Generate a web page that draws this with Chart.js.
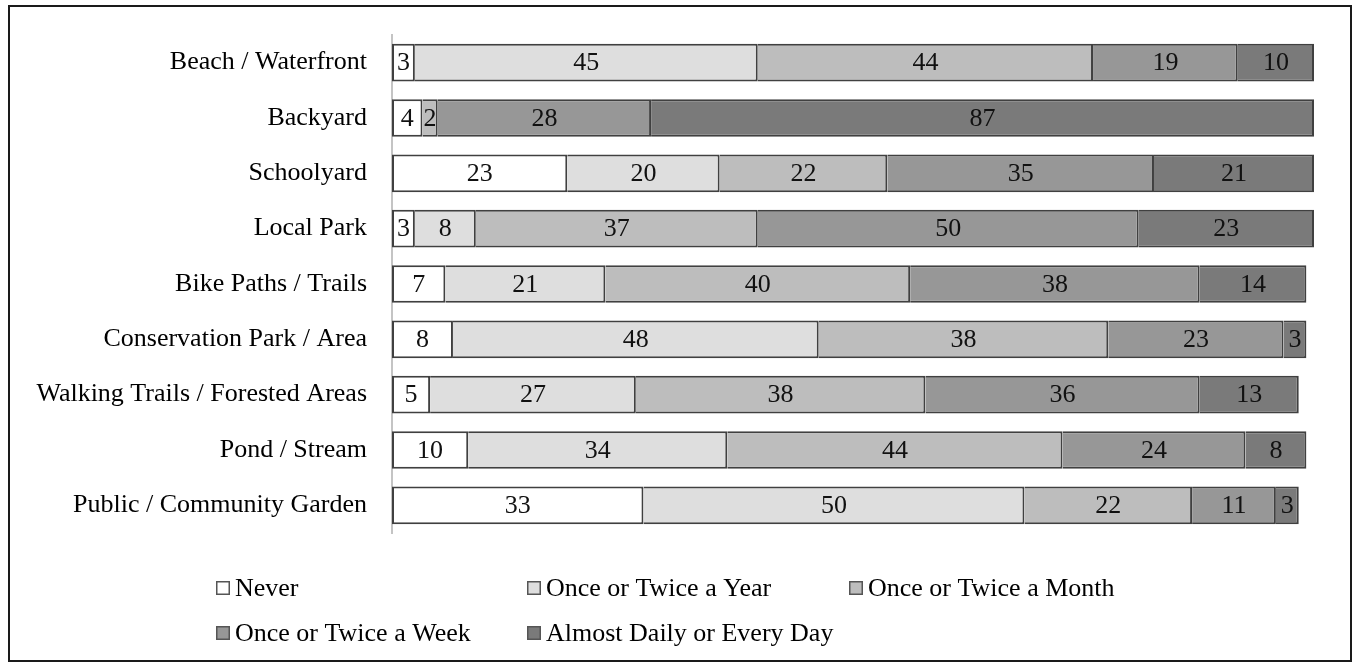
<!DOCTYPE html>
<html>
<head>
<meta charset="utf-8">
<title>Frequency of Visits by Outdoor Space</title>
<script src="https://cdn.jsdelivr.net/npm/chart.js@4/dist/chart.umd.min.js"></script>
<style>
  html, body { margin: 0; padding: 0; background: #ffffff; }
  canvas { display: block; }
</style>
</head>
<body>
<canvas id="chart" width="1354" height="664"></canvas>
<script>
// Outdoor spaces (top to bottom)
const categories = [
  'Beach / Waterfront',
  'Backyard',
  'Schoolyard',
  'Local Park',
  'Bike Paths / Trails',
  'Conservation Park / Area',
  'Walking Trails / Forested Areas',
  'Pond / Stream',
  'Public / Community Garden'
];

// Number of respondents per visit frequency
const never         = [3, 4, 23, 3, 7, 8, 5, 10, 33];
const twiceYear     = [45, 0, 20, 8, 21, 48, 27, 34, 50];
const twiceMonth    = [44, 2, 22, 37, 40, 38, 38, 44, 22];
const twiceWeek     = [19, 28, 35, 50, 38, 23, 36, 24, 11];
const almostDaily   = [10, 87, 21, 23, 14, 3, 13, 8, 3];

const seriesNames = [
  'Never',
  'Once or Twice a Year',
  'Once or Twice a Month',
  'Once or Twice a Week',
  'Almost Daily or Every Day'
];
const seriesValues = [never, twiceYear, twiceMonth, twiceWeek, almostDaily];
const seriesColors = ['#ffffff', '#dedede', '#bdbdbd', '#979797', '#7a7a7a'];

const axisMax = 121;
const FONT = '"Liberation Serif", "Times New Roman", serif';
const EDGE = '#404040';

const datasets = seriesNames.map((name, i) => ({
  label: name,
  data: seriesValues[i],
  backgroundColor: seriesColors[i],
  borderColor: EDGE,
  borderSkipped: false,
  borderWidth: i === 0
    ? { top: 2, right: 2, bottom: 2, left: 2 }
    : { top: 2, right: 2, bottom: 2, left: 0 },
  barPercentage: 0.68,
  categoryPercentage: 1.0
}));

// Value written in the middle of each segment
const segmentLabels = {
  id: 'segmentLabels',
  afterDatasetsDraw(chart) {
    const ctx = chart.ctx;
    ctx.save();
    ctx.font = '26px ' + FONT;
    ctx.fillStyle = '#111111';
    ctx.textAlign = 'center';
    ctx.textBaseline = 'middle';
    chart.data.datasets.forEach((ds, di) => {
      const meta = chart.getDatasetMeta(di);
      meta.data.forEach((bar, idx) => {
        const v = ds.data[idx];
        if (!v) return;
        const cx = (bar.x + bar.base) / 2;
        ctx.fillText(String(v), cx, bar.y + 1);
      });
    });
    ctx.restore();
  }
};

// Two-row legend laid out in fixed columns, plus the outer frame
const gridLegend = {
  id: 'gridLegend',
  beforeDraw(chart) {
    const ctx = chart.ctx;
    ctx.save();
    ctx.fillStyle = '#ffffff';
    ctx.fillRect(0, 0, chart.width, chart.height);
    ctx.restore();
  },
  afterDraw(chart) {
    const ctx = chart.ctx;
    const cols = [216, 527, 849];
    const rows = [588, 633];
    const box = 14;
    ctx.save();
    ctx.font = '26px ' + FONT;
    ctx.textAlign = 'left';
    ctx.textBaseline = 'middle';
    chart.data.datasets.forEach((ds, i) => {
      const x = cols[i % 3];
      const y = rows[Math.floor(i / 3)];
      ctx.fillStyle = ds.backgroundColor;
      ctx.fillRect(x, y - box / 2, box, box);
      ctx.lineWidth = 1.5;
      ctx.strokeStyle = '#555555';
      ctx.strokeRect(x + 0.75, y - box / 2 + 0.75, box - 1.5, box - 1.5);
      ctx.fillStyle = '#000000';
      ctx.fillText(ds.label, x + box + 5, y + 1);
    });
    // frame
    ctx.lineWidth = 2;
    ctx.strokeStyle = '#1a1a1a';
    ctx.strokeRect(9, 6, 1342, 655);
    ctx.restore();
  }
};

new Chart(document.getElementById('chart'), {
  type: 'bar',
  data: { labels: categories, datasets: datasets },
  options: {
    indexAxis: 'y',
    responsive: false,
    animation: false,
    devicePixelRatio: 1,
    layout: { padding: { top: 35, right: 40, bottom: 131, left: 0 } },
    plugins: {
      legend: { display: false },
      tooltip: { enabled: false }
    },
    scales: {
      x: {
        stacked: true,
        min: 0,
        max: axisMax,
        display: false
      },
      y: {
        stacked: true,
        afterFit(scale) {
          scale.width = 392;
          scale.paddingTop = 0;
          scale.paddingBottom = 0;
        },
        grid: { display: false, drawTicks: false },
        border: { display: true, color: '#c4c4c4', width: 2 },
        ticks: {
          padding: 25,
          color: '#000000',
          font: { family: FONT, size: 26 }
        }
      }
    }
  },
  plugins: [segmentLabels, gridLegend]
});
</script>
</body>
</html>
